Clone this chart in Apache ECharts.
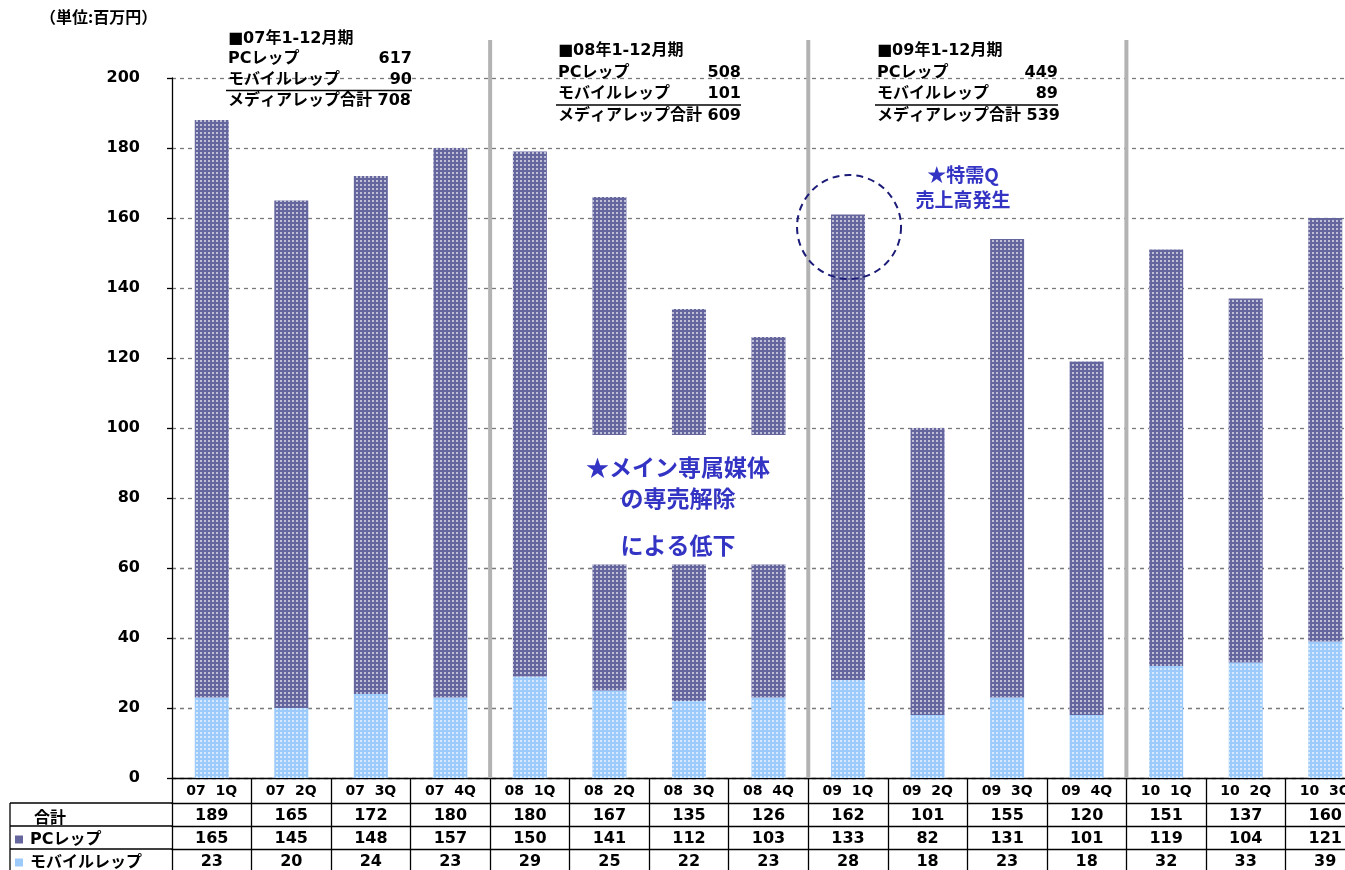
<!DOCTYPE html>
<html><head><meta charset="utf-8">
<script src="https://cdn.jsdelivr.net/npm/echarts@6/dist/echarts.min.js"></script>
<style>html,body{margin:0;padding:0;background:#fff;overflow:hidden;width:1345px;height:870px}#c{width:1370px;height:870px}</style>
</head><body><div id="c"></div>
<script>
// ---- data ----
const categories = ['07  1Q','07  2Q','07  3Q','07  4Q','08  1Q','08  2Q','08  3Q','08  4Q','09  1Q','09  2Q','09  3Q','09  4Q','10  1Q','10  2Q','10  3Q'];
const totalValues = [189,165,172,180,180,167,135,126,162,101,155,120,151,137,160];
const pcValues = [165,145,148,157,150,141,112,103,133,82,131,101,119,104,121];
const mobileValues = [23,20,24,23,29,25,22,23,28,18,23,18,32,33,39];
const yMin = 0, yMax = 200, yInterval = 20;
const brokenCategories = ['08  2Q','08  3Q','08  4Q'];
const breakRange = [61, 98];
const separatorAfter = ['07  4Q','08  4Q','09  4Q'];
const rowLabels = ['合計','PCレップ','モバイルレップ'];
const yearHeaders = ['■07年1-12月期','■08年1-12月期','■09年1-12月期'];
const yearPC = [617,508,449];
const yearMobile = [90,101,89];
const yearTotal = [708,609,539];
const unitLabel = '（単位:百万円）';
const noteSpecial = ['★特需Q','売上高発生'];
const noteDrop = ['★メイン専属媒体','の専売解除','','による低下'];

// ---- styles ----
const FONT = "'DejaVu Sans','Noto Sans CJK JP',sans-serif";
const JP = "'Noto Sans CJK JP',sans-serif";
const PC_COLOR = '#66669f';
const MB_COLOR = '#9ccafa';
const NOTE_COLOR = '#3434c4';
const decal = c => ({symbol:'rect', symbolSize:1, dashArrayX:[1.5,1.5], dashArrayY:[1.5,1.5], color:c});
const HEADER_H = 25, ROW_H = 23;

const isBroken = categories.map(c => brokenCategories.includes(c));
const pcLow = categories.map((c,i) => isBroken[i] ? breakRange[0] - mobileValues[i] : pcValues[i]);
const gapPart = categories.map((c,i) => isBroken[i] ? breakRange[1] - breakRange[0] : '-');
const pcHigh = categories.map((c,i) => isBroken[i] ? mobileValues[i] + pcValues[i] - breakRange[1] : '-');

const rowValueSets = [totalValues, pcValues, mobileValues];
const tableAxes = rowValueSets.map((vals, k) => ({
  type:'category', gridIndex:0, position:'bottom', data:categories,
  offset: HEADER_H + ROW_H * k,
  axisLine:{show:true, lineStyle:{color:'#000', width:1.3}},
  axisTick:{show:true, interval:0, length:ROW_H, lineStyle:{color:'#000', width:1.3}},
  axisLabel:{interval:0, margin:5, formatter:(v,i)=>String(vals[i]), fontFamily:FONT, fontWeight:'bold', fontSize:16, color:'#000'},
  splitLine:{show:false}
}));

const chart = echarts.init(document.getElementById('c'));
const option = {
  backgroundColor:'#fff',
  animation:false,
  grid:{left:172, top:78, width:1193, height:703, containLabel:false},
  xAxis:[{
    type:'category', data:categories, position:'bottom',
    axisLine:{show:true, lineStyle:{color:'#000', width:1.3}},
    axisTick:{show:true, interval:0, length:HEADER_H, lineStyle:{color:'#000', width:1.3}},
    axisLabel:{interval:0, margin:6, fontFamily:FONT, fontWeight:'bold', fontSize:14, color:'#000'},
    splitLine:{show:false}
  }].concat(tableAxes),
  yAxis:{
    type:'value', min:yMin, max:yMax, interval:yInterval,
    axisLine:{show:true, lineStyle:{color:'#000', width:1.3}},
    axisTick:{show:true, length:5, lineStyle:{color:'#000', width:1.3}},
    axisLabel:{margin:32, fontFamily:FONT, fontWeight:'bold', fontSize:16, color:'#000'},
    splitLine:{show:true, lineStyle:{color:'#7a7a7a', type:[4,4], width:1.3}}
  },
  series:[
    {name:'モバイルレップ', type:'bar', stack:'s', barWidth:34, data:mobileValues,
     itemStyle:{color:MB_COLOR, decal:decal('rgba(255,255,255,0.6)')}},
    {name:'PCレップ', type:'bar', stack:'s', barWidth:34, data:pcLow,
     itemStyle:{color:PC_COLOR, decal:decal('rgba(255,255,255,0.58)')}},
    {name:'gap', type:'bar', stack:'s', barWidth:34, data:gapPart, silent:true,
     itemStyle:{color:'rgba(0,0,0,0)'}},
    {name:'PCレップ', type:'bar', stack:'s', barWidth:34, data:pcHigh,
     itemStyle:{color:PC_COLOR, decal:decal('rgba(255,255,255,0.58)')}}
  ]
};
chart.setOption(option);

// ---- decorations positioned from the axes ----
const px = c => chart.convertToPixel({xAxisIndex:0}, c);
const py = v => chart.convertToPixel({yAxisIndex:0}, v);
const y0 = py(0), gridLeft = 172;
const g = [];
separatorAfter.forEach(name => {
  const i = categories.indexOf(name);
  const x = (px(categories[i]) + px(categories[i+1])) / 2;
  g.push({type:'line', z:50, shape:{x1:x, y1:40, x2:x, y2:y0}, style:{stroke:'#b3b3b3', lineWidth:4}});
});
const tTop = y0 + HEADER_H;
g.push({type:'line', z:50, shape:{x1:10, y1:tTop, x2:10, y2:870}, style:{stroke:'#000', lineWidth:1.3}});
rowLabels.forEach((lab, k) => {
  const yTop = tTop + ROW_H * k;
  g.push({type:'line', z:50, shape:{x1:10, y1:yTop, x2:gridLeft, y2:yTop}, style:{stroke:'#000', lineWidth:1.3}});
  const yc = yTop + ROW_H / 2 + 2;
  if (k === 0) {
    g.push({type:'text', z:50, x:34, y:yc, style:{text:lab, font:`bold 16px ${JP}`, fill:'#000', verticalAlign:'middle'}});
  } else {
    const col = k === 1 ? PC_COLOR : MB_COLOR;
    g.push({type:'rect', z:50, shape:{x:15, y:yc-4, width:8, height:8}, style:{fill:col}});
    g.push({type:'text', z:50, x:30, y:yc, style:{text:lab, font:`bold 16px ${FONT}`, fill:'#000', verticalAlign:'middle'}});
  }
});
g.push({type:'text', z:50, x:40, y:17, style:{text:unitLabel, font:`bold 16px ${JP}`, fill:'#000', verticalAlign:'middle'}});
const blocks = [{x:228, r:412, y:[39,59,80,101]}, {x:558, r:741, y:[51,73,94,116]}, {x:877, r:1058, y:[51,73,94,116]}];
blocks.forEach((b, k) => {
  const f = `bold 16px ${FONT}`;
  g.push({type:'text', z:50, x:b.x, y:b.y[0], style:{text:yearHeaders[k], font:f, fill:'#000', verticalAlign:'middle'}});
  g.push({type:'text', z:50, x:b.x, y:b.y[1], style:{text:'PCレップ', font:f, fill:'#000', verticalAlign:'middle'}});
  g.push({type:'text', z:50, x:b.r, y:b.y[1], style:{text:String(yearPC[k]), font:f, fill:'#000', verticalAlign:'middle', align:'right'}});
  g.push({type:'text', z:50, x:b.x, y:b.y[2], style:{text:'モバイルレップ', font:f, fill:'#000', verticalAlign:'middle'}});
  g.push({type:'text', z:50, x:b.r, y:b.y[2], style:{text:String(yearMobile[k]), font:f, fill:'#000', verticalAlign:'middle', align:'right'}});
  const ul = (b.y[2] + b.y[3]) / 2;
  g.push({type:'line', z:50, shape:{x1:b.x-2, y1:ul, x2:b.r, y2:ul}, style:{stroke:'#000', lineWidth:1.5}});
  g.push({type:'text', z:50, x:b.x, y:b.y[3], style:{text:'メディアレップ合計 ' + yearTotal[k], font:f, fill:'#000', verticalAlign:'middle'}});
});
const cx9 = px('09  1Q');
g.push({type:'circle', z:50, shape:{cx:cx9+1, cy:227, r:52}, style:{fill:'none', stroke:'#1c1c78', lineWidth:2, lineDash:[7,5]}});
noteSpecial.forEach((t, i) => {
  g.push({type:'text', z:50, x:963, y:175 + i*25, style:{text:t, font:`bold 19px ${JP}`, fill:NOTE_COLOR, align:'center', verticalAlign:'middle'}});
});
const dropY = [467, 498, 521, 545];
noteDrop.forEach((t, i) => {
  if (!t) return;
  g.push({type:'text', z:50, x:678, y:dropY[i], style:{text:t, font:`bold 23px ${JP}`, fill:NOTE_COLOR, align:'center', verticalAlign:'middle'}});
});
chart.setOption({graphic:{elements:g}});
</script>
</body></html>
